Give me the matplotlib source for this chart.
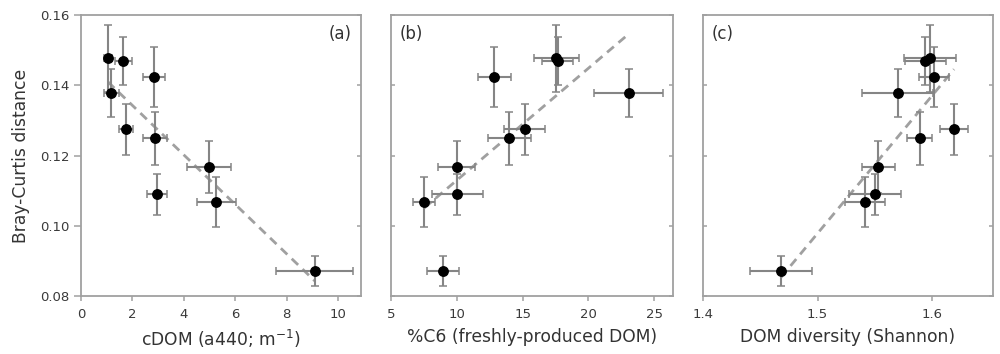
import matplotlib
matplotlib.use("Agg")
import matplotlib.pyplot as plt
import numpy as np

plt.rcParams['font.family'] = ['DejaVu Sans']

# Shared response: Bray-Curtis distance and its error
bray = [0.1477, 0.1470, 0.1379, 0.1423, 0.1275, 0.1249, 0.1090, 0.1166, 0.1068, 0.0871]
bray_err = [0.0095, 0.0068, 0.0068, 0.0085, 0.0073, 0.0076, 0.0058, 0.0074, 0.0072, 0.0042]

# Panel (a): cDOM
cdom = [1.05, 1.65, 1.18, 2.84, 1.75, 2.87, 2.95, 4.97, 5.27, 9.10]
cdom_err = [0.15, 0.33, 0.28, 0.44, 0.29, 0.46, 0.40, 0.86, 0.76, 1.50]

# Panel (b): %C6
c6 = [17.55, 17.65, 23.05, 12.83, 15.15, 14.00, 10.05, 9.98, 7.53, 8.96]
c6_err = [1.70, 1.20, 2.60, 1.25, 1.55, 1.65, 1.95, 1.40, 0.85, 1.20]

# Panel (c): DOM diversity
shannon = [1.598, 1.594, 1.570, 1.6015, 1.619, 1.589, 1.550, 1.553, 1.541, 1.468]
shannon_err = [0.023, 0.018, 0.031, 0.013, 0.012, 0.011, 0.023, 0.0145, 0.0175, 0.027]

panels = [
    dict(x=cdom, xe=cdom_err, xlim=(0, 10.9), xticks=[0, 2, 4, 6, 8, 10],
         xlabel='cDOM (a440; m$^{\\mathregular{-1}}$)', tag='(a)', tagpos=(0.967, 0.932), ha='right',
         rect=[0.081, 0.1638, 0.280, 0.7938], fmt='{:g}'),
    dict(x=c6, xe=c6_err, xlim=(5, 26.4), xticks=[5, 10, 15, 20, 25],
         xlabel='%C6 (freshly-produced DOM)', tag='(b)', tagpos=(0.03, 0.932), ha='left',
         rect=[0.391, 0.1638, 0.2817, 0.7938], fmt='{:g}'),
    dict(x=shannon, xe=shannon_err, xlim=(1.4, 1.653), xticks=[1.4, 1.5, 1.6],
         xlabel='DOM diversity (Shannon)', tag='(c)', tagpos=(0.03, 0.932), ha='left',
         rect=[0.703, 0.1638, 0.290, 0.7938], fmt='{:.1f}'),
]

fig = plt.figure(figsize=(10, 3.54), dpi=100)
spine_c = '#a0a0a0'
text_c = '#333333'
tick_c = '#3a3a3a'
yticks = [0.08, 0.10, 0.12, 0.14, 0.16]

for i, p in enumerate(panels):
    ax = fig.add_axes(p['rect'])
    x = np.array(p['x'])
    y = np.array(bray)
    # least-squares regression line
    slope, icpt = np.polyfit(x, y, 1)
    xs = np.array([x.min(), x.max()])
    ax.plot(xs, slope * xs + icpt, color='#a0a0a0', lw=2.0, ls=(0, (3.2, 2.2)), zorder=1)
    ax.errorbar(x, y, xerr=p['xe'], yerr=bray_err, fmt='o', color='black', ms=6.8,
                ecolor='#858585', elinewidth=1.5, capsize=2.6, capthick=1.1, zorder=3)
    ax.set_xlim(*p['xlim'])
    ax.set_ylim(0.08, 0.16)
    ax.set_xticks(p['xticks'])
    ax.set_xticklabels([p['fmt'].format(t) for t in p['xticks']])
    ax.set_yticks(yticks)
    if i == 0:
        ax.set_yticklabels(['{:.2f}'.format(t) for t in yticks])
        ax.set_ylabel('Bray-Curtis distance', fontsize=12.3, color=text_c, labelpad=7)
        ax.tick_params(axis='y', direction='out', length=5, pad=3.5)
    else:
        ax.set_yticklabels([])
        ax.tick_params(axis='y', direction='in', length=3)
    ax.set_xlabel(p['xlabel'], fontsize=12.3, color=text_c, labelpad=5)
    ax.tick_params(axis='x', direction='out', length=3.5, pad=5)
    ax.tick_params(axis='both', labelsize=9.5, colors=spine_c, labelcolor=tick_c, width=1.1)
    for s in ax.spines.values():
        s.set_color(spine_c)
        s.set_linewidth(1.3)
    # inward ticks on the right spine
    ax2 = ax.twinx()
    ax2.set_ylim(0.08, 0.16)
    ax2.set_yticks(yticks)
    ax2.tick_params(axis='y', direction='in', length=3, colors=spine_c, labelright=False, width=1.1)
    for s in ax2.spines.values():
        s.set_visible(False)
    ax.text(p['tagpos'][0], p['tagpos'][1], p['tag'], transform=ax.transAxes,
            ha=p['ha'], va='center', fontsize=12, color=text_c)

fig.savefig('out.png', dpi=100)
